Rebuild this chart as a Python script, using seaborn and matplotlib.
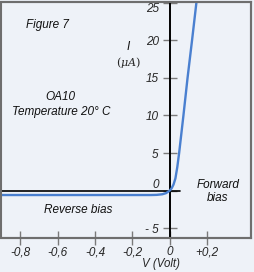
import matplotlib
matplotlib.use("Agg")
import matplotlib.pyplot as plt
import seaborn as sns
import pandas as pd
from matplotlib.patches import Rectangle

# Data
voltage = [-0.91, -0.6, -0.3, -0.1, -0.07, -0.04, -0.02, 0.0, 0.01, 0.02, 0.03, 0.04, 0.05, 0.073, 0.095, 0.119, 0.145]
current = [-0.6, -0.6, -0.6, -0.6, -0.58, -0.5, -0.35, 0.0, 0.3, 0.8, 1.6, 3.1, 5.0, 10.0, 15.0, 20.0, 25.6]
x_ticks = [-0.8, -0.6, -0.4, -0.2, 0.0, 0.2]
x_tick_labels = ["-0,8", "-0,6", "-0,4", "-0,2", "0", "+0,2"]
y_ticks = [-5, 0, 5, 10, 15, 20, 25]
y_tick_labels = ["- 5", "0", "5", "10", "15", "20", "25"]

sns.set_style("white")
plt.rcParams['font.family'] = ['Liberation Sans', 'DejaVu Sans']
plt.rcParams['mathtext.fontset'] = 'dejavuserif'

bg = "#eef2f8"
frame = "#6e6e6e"
tickc = "#7a7a7a"

fig = plt.figure(figsize=(2.54, 2.72), dpi=100, facecolor=bg)
ax = fig.add_axes([0.002, 34 / 272, 250 / 254, 236 / 272])
ax.set_facecolor(bg)

df = pd.DataFrame({"V": voltage, "I": current})
sns.lineplot(data=df, x="V", y="I", ax=ax, color="#4a80d0", linewidth=1.7, zorder=4, sort=False)

ax.set_xlim(-0.906, 0.432)
ax.set_ylim(-6.33, 25.13)

# axes lines
ax.axvline(0, color="black", linewidth=1.4, zorder=3)
ax.plot([-0.906, 0.053], [0, 0], color="black", linewidth=1.2, zorder=3)

# frame
for s in ["top", "right", "bottom"]:
    ax.spines[s].set_color(frame)
    ax.spines[s].set_linewidth(1.5)
ax.spines["left"].set_position(("data", 0))
ax.spines["left"].set_visible(False)
ax.add_patch(Rectangle((0, 0), 1, 1, transform=ax.transAxes, fill=False,
                       edgecolor=frame, linewidth=1.5, clip_on=False, zorder=5))

ax.set_xticks(x_ticks)
ax.set_xticklabels(x_tick_labels, fontstyle="italic", fontsize=8.5)
ax.set_yticks(y_ticks)
ax.set_yticklabels(y_tick_labels, fontstyle="italic", fontsize=8.5)
ax.tick_params(axis="x", direction="inout", length=10, width=1, color=tickc, pad=1, bottom=True)
ax.tick_params(axis="y", direction="inout", length=10, width=1, color=tickc, pad=3, left=True)
ylabs = ax.get_yticklabels()
ylabs[1].set_va("bottom")
ylabs[6].set_va("top")

ax.set_xlabel("V (Volt)", fontstyle="italic", fontsize=8.3)
ax.xaxis.set_label_coords(160 / 250, -0.083)
ax.set_ylabel("")

txt = dict(fontstyle="italic", fontsize=8.5, ha="center", va="center", color="#111111")
ax.text(-0.656, 22.07, "Figure 7", **txt)
ax.text(-0.224, 19.13, "I", **txt)
ax.text(-0.219, 17.0, r"$(\mu A)$", fontsize=8, ha="center", va="center")
ax.text(-0.587, 12.47, "OA10", **txt)
ax.text(-0.581, 10.47, "Temperature 20° C", **txt)
ax.text(0.256, 0.73, "Forward", **txt)
ax.text(0.256, -1.0, "bias", **txt)
ax.text(-0.49, -2.6, "Reverse bias", **txt)

fig.savefig("out.png", dpi=100, facecolor=bg)
